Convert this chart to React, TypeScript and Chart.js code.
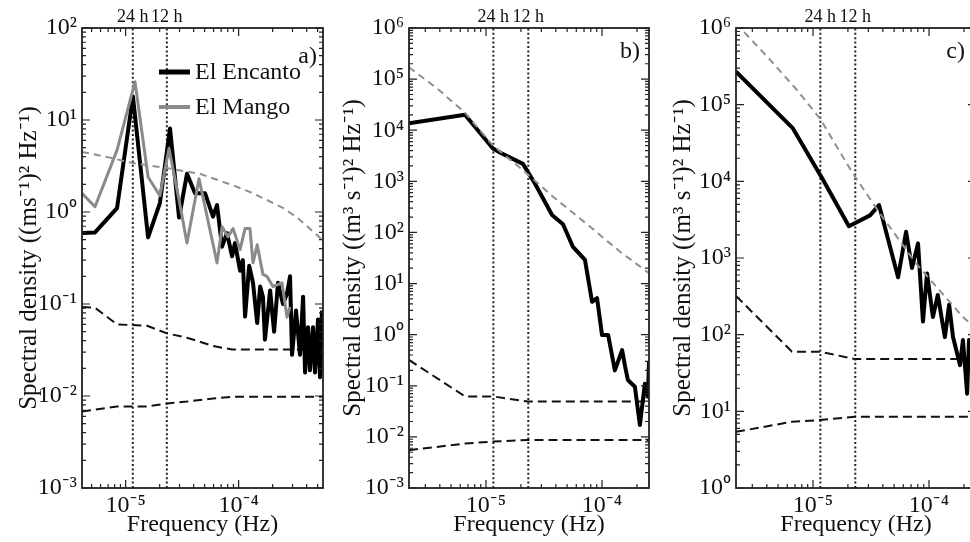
import React, { useEffect, useRef } from "react";
import { Chart, registerables } from "chart.js";

Chart.register(...registerables);

// ---------- shared ----------
const DAY_HZ = 1 / 86400;
const HALF_DAY_HZ = 1 / 43200;
const TOP_TICK_VALUES = [DAY_HZ, HALF_DAY_HZ];
const TOP_TICK_LABELS = ["24 h", "12 h"];
const X_TITLE = "Frequency (Hz)";
const Y_TITLE_A = "Spectral density ((ms⁻¹)² Hz⁻¹)";
const Y_TITLE_BC = "Spectral density ((m³ s⁻¹)² Hz⁻¹)";
const LEGEND_LABELS = ["El Encanto", "El Mango"];

// ---------- panel a ----------
const A_X_RANGE = [4.11e-6, 5.58e-4];
const A_Y_RANGE = [1e-3, 1e2];
const A_ENCANTO_HZ = [4.11e-6, 5.36e-6, 8.39e-6, 1.16e-5, 1.58e-5, 2.01e-5, 2.47e-5, 2.97e-5, 3.49e-5, 4.11e-5, 5.04e-5, 5.93e-5, 6.44e-5, 7.13e-5, 7.89e-5, 8.75e-5, 9.29e-5, 1.03e-4, 1.09e-4, 1.14e-4, 1.24e-4, 1.34e-4, 1.46e-4, 1.55e-4, 1.64e-4, 1.71e-4, 1.9e-4, 2.06e-4, 2.23e-4, 2.47e-4, 2.68e-4, 2.85e-4, 2.97e-4, 3.22e-4, 3.49e-4, 3.72e-4, 3.87e-4, 4.11e-4, 4.28e-4, 4.55e-4, 4.74e-4, 5.04e-4, 5.25e-4, 5.47e-4];
const A_ENCANTO_PSD = [0.59, 0.6, 1.1, 18, 0.53, 1.25, 8.1, 0.87, 2.6, 1.6, 1.6, 0.89, 1.19, 0.42, 0.59, 0.33, 0.46, 0.23, 0.3, 0.073, 0.26, 0.17, 0.062, 0.155, 0.12, 0.041, 0.14, 0.05, 0.17, 0.1, 0.13, 0.2, 0.028, 0.085, 0.028, 0.12, 0.018, 0.056, 0.019, 0.056, 0.018, 0.068, 0.016, 0.085];
const A_MANGO_HZ = [4.11e-6, 5.36e-6, 8.39e-6, 1.21e-5, 1.58e-5, 2.01e-5, 2.42e-5, 2.97e-5, 3.49e-5, 4.46e-5, 6.44e-5, 7.13e-5, 8.05e-5, 8.92e-5, 1.03e-4, 1.14e-4, 1.26e-4, 1.34e-4, 1.46e-4, 1.64e-4, 1.78e-4, 2.01e-4, 2.42e-4, 2.68e-4, 2.85e-4];
const A_MANGO_PSD = [1.6, 1.14, 4.7, 26, 2.4, 1.5, 4.9, 1.35, 0.46, 2.3, 0.28, 0.69, 0.54, 0.66, 0.39, 0.66, 0.66, 0.28, 0.44, 0.21, 0.2, 0.155, 0.17, 0.072, 0.093];
const A_FIT_HZ = [4.11e-6, 7.27e-6, 1.16e-5, 2.32e-5, 4.55e-5, 8.92e-5, 1.26e-4, 1.78e-4, 2.57e-4, 3.49e-4, 5.58e-4];
const A_FIT_PSD = [4.5, 3.9, 3.4, 3.0, 2.6, 1.95, 1.65, 1.35, 1.08, 0.82, 0.49];
const A_CI_HZ = [4.11e-6, 5.36e-6, 8.39e-6, 1.55e-5, 2.32e-5, 3.49e-5, 5.93e-5, 8.75e-5, 5.58e-4];
const A_CI_UPPER = [0.093, 0.091, 0.06, 0.058, 0.048, 0.043, 0.035, 0.032, 0.032];
const A_CI_LOWER = [0.0068, 0.0071, 0.0077, 0.0077, 0.0083, 0.0087, 0.0094, 0.0098, 0.0098];

// ---------- panel b ----------
const B_X_RANGE = [2.17e-6, 2.54e-4];
const B_Y_RANGE = [1e-3, 1e6];
const B_FLOW_HZ = [2.17e-6, 6.59e-6, 1.148e-5, 1.37e-5, 2.08e-5, 2.64e-5, 3.71e-5, 4.61e-5, 5.62e-5, 7.13e-5, 8.2e-5, 9.06e-5, 1.0e-4, 1.13e-4, 1.29e-4, 1.49e-4, 1.58e-4, 1.67e-4, 1.92e-4, 2.12e-4, 2.34e-4, 2.49e-4, 2.54e-4];
const B_FLOW_PSD = [1.36e4, 2.0e4, 4.4e3, 3.5e3, 2.2e3, 910, 220, 145, 52, 29, 4.4, 5.2, 0.98, 0.98, 0.2, 0.5, 0.24, 0.13, 0.096, 0.017, 0.11, 0.061, 0.3];
const B_FIT_HZ = [2.17e-6, 3.78e-6, 6.59e-6, 1.148e-5, 2.08e-5, 3.78e-5, 7.43e-5, 1.43e-4, 2.54e-4];
const B_FIT_PSD = [1.7e5, 6.6e4, 2.2e4, 5.0e3, 1.66e3, 500, 145, 42, 16];
const B_CI_HZ = [2.17e-6, 6.59e-6, 1.148e-5, 2.3e-5, 2.54e-4];
const B_CI_UPPER = [0.32, 0.062, 0.062, 0.049, 0.049];
const B_CI_LOWER = [0.0055, 0.0074, 0.0081, 0.0087, 0.0087];

// ---------- panel c ----------
const C_X_RANGE = [2.17e-6, 2.54e-4];
const C_Y_RANGE = [1e0, 1e6];
const C_FLOW_HZ = [2.17e-6, 6.72e-6, 1.22e-5, 2.04e-5, 3.1e-5, 3.71e-5, 5.41e-5, 6.34e-5, 7.13e-5, 8.04e-5, 8.87e-5, 9.61e-5, 1.08e-4, 1.19e-4, 1.37e-4, 1.49e-4, 1.61e-4, 1.85e-4, 1.96e-4, 2.13e-4, 2.21e-4, 2.34e-4, 2.54e-4];
const C_FLOW_PSD = [2.7e5, 4.9e4, 1.05e4, 2.6e3, 3.6e3, 4.9e3, 560, 2.2e3, 740, 1.55e3, 148, 630, 170, 330, 93, 245, 93, 40, 85, 17, 85, 40, 100];
const C_FIT_HZ = [2.17e-6, 4.52e-6, 7.28e-6, 1.148e-5, 2.21e-5, 3.78e-5, 7.88e-5, 1.96e-4, 2.54e-4];
const C_FIT_PSD = [1.15e6, 3.5e5, 1.55e5, 6.6e4, 1.26e4, 3.8e3, 820, 170, 120];
const C_CI_HZ = [2.17e-6, 6.59e-6, 1.148e-5, 2.3e-5, 2.54e-4];
const C_CI_UPPER = [320, 60, 60, 48, 48];
const C_CI_LOWER = [5.4, 7.3, 7.7, 8.5, 8.5];

// ---------- helpers ----------
const FONT_FAMILY = "'Liberation Serif', 'Lato', 'Noto Sans', serif";
const TEXT_COLOR = "#111";
const SUP: Record<string, string> = {
  "-": "⁻", "0": "⁰", "1": "¹", "2": "²", "3": "³", "4": "⁴",
  "5": "⁵", "6": "⁶", "7": "⁷", "8": "⁸", "9": "⁹",
};
const powLabel = (v: number) => {
  const e = Math.round(Math.log10(v));
  return "10" + String(e).split("").map((c) => SUP[c]).join("");
};
const pts = (xs: number[], ys: number[]) => xs.map((x, i) => ({ x, y: ys[i] }));
const decadeTicks = (scale: any) => {
  const lo = Math.ceil(Math.log10(scale.min) - 1e-9);
  const hi = Math.floor(Math.log10(scale.max) + 1e-9);
  const t: any[] = [];
  for (let e = lo; e <= hi; e++) t.push({ value: Math.pow(10, e) });
  scale.ticks = t;
};
const logTickList = (scale: any) => {
  const out: { p: number; major: boolean }[] = [];
  const lo = Math.floor(Math.log10(scale.min));
  const hi = Math.ceil(Math.log10(scale.max));
  for (let e = lo; e <= hi; e++) {
    for (let m = 1; m <= 9; m++) {
      const v = m * Math.pow(10, e);
      if (v >= scale.min * (1 - 1e-9) && v <= scale.max * (1 + 1e-9)) {
        out.push({ p: scale.getPixelForValue(v), major: m === 1 });
      }
    }
  }
  return out;
};

// inward ticks on all four sides + frame
const framePlugin = {
  id: "frameTicks",
  afterDatasetsDraw(chart: any) {
    const { ctx, chartArea: a, scales } = chart;
    ctx.save();
    ctx.setLineDash([]);
    ctx.strokeStyle = "#222";
    ctx.lineWidth = 1.2;
    ctx.beginPath();
    for (const t of logTickList(scales.x)) {
      const L = t.major ? 8 : 4;
      ctx.moveTo(t.p, a.bottom);
      ctx.lineTo(t.p, a.bottom - L);
      ctx.moveTo(t.p, a.top);
      ctx.lineTo(t.p, a.top + L);
    }
    for (const t of logTickList(scales.y)) {
      const L = t.major ? 8 : 4;
      ctx.moveTo(a.left, t.p);
      ctx.lineTo(a.left + L, t.p);
      ctx.moveTo(a.right, t.p);
      ctx.lineTo(a.right - L, t.p);
    }
    ctx.stroke();
    ctx.lineWidth = 1.8;
    ctx.strokeRect(a.left, a.top, a.right - a.left, a.bottom - a.top);
    ctx.restore();
  },
};

const panelLabelPlugin = {
  id: "panelLabel",
  afterDraw(chart: any, _args: any, opts: any) {
    if (!opts || !opts.text) return;
    const { ctx, chartArea: a } = chart;
    ctx.save();
    ctx.font = `24px ${FONT_FAMILY}`;
    ctx.fillStyle = TEXT_COLOR;
    ctx.textAlign = "right";
    ctx.textBaseline = "middle";
    ctx.fillText(opts.text, a.right - opts.dx, a.top + opts.dy);
    ctx.restore();
  },
};

const insideLegendPlugin = {
  id: "insideLegend",
  afterDraw(chart: any, _args: any, opts: any) {
    if (!opts || !opts.labels) return;
    const { ctx, chartArea: a } = chart;
    ctx.save();
    opts.labels.forEach((label: string, i: number) => {
      const ds = chart.data.datasets.find((d: any) => d.label === label);
      if (!ds) return;
      const y = a.top + opts.top + i * opts.rowGap;
      ctx.setLineDash([]);
      ctx.strokeStyle = ds.borderColor;
      ctx.lineWidth = ds.borderWidth + 1;
      ctx.lineCap = "butt";
      ctx.beginPath();
      ctx.moveTo(a.left + opts.lineStart, y);
      ctx.lineTo(a.left + opts.lineEnd, y);
      ctx.stroke();
      ctx.font = `24px ${FONT_FAMILY}`;
      ctx.fillStyle = TEXT_COLOR;
      ctx.textAlign = "left";
      ctx.textBaseline = "middle";
      ctx.fillText(label, a.left + opts.textStart, y + 1);
    });
    ctx.restore();
  },
};

const markerLine = (f: number, yr: number[], label: string) => ({
  label,
  data: [{ x: f, y: yr[0] }, { x: f, y: yr[1] }],
  borderColor: "#222",
  borderWidth: 2,
  borderDash: [2, 2.4],
  pointRadius: 0,
  order: 9,
});
const dashed = (label: string, data: any[], color: string, dash: number[], order: number) => ({
  label,
  data,
  borderColor: color,
  borderWidth: 2,
  borderDash: dash,
  pointRadius: 0,
  order,
});
const solid = (label: string, data: any[], color: string, width: number, order: number) => ({
  label,
  data,
  borderColor: color,
  borderWidth: width,
  borderJoinStyle: "round",
  pointRadius: 0,
  order,
});

type PanelSpec = {
  xRange: number[];
  yRange: number[];
  yTitle: string;
  yAxisWidth: number;
  titlePad: number;
  rightPad: number;
  label: { text: string; dx: number; dy: number };
  legend?: any;
  datasets: any[];
};

function makeConfig(p: PanelSpec): any {
  return {
    type: "line",
    data: { datasets: p.datasets },
    plugins: [framePlugin, panelLabelPlugin, insideLegendPlugin],
    options: {
      responsive: false,
      animation: false,
      devicePixelRatio: 1,
      layout: { padding: { left: 0, top: 0, bottom: 0, right: p.rightPad } },
      elements: { line: { tension: 0, fill: false } },
      datasets: { line: { clip: 0 } },
      plugins: {
        legend: { display: false },
        tooltip: { enabled: false },
        panelLabel: p.label,
        insideLegend: p.legend || {},
      },
      scales: {
        x: {
          type: "logarithmic",
          position: "bottom",
          min: p.xRange[0],
          max: p.xRange[1],
          grid: { display: false, drawTicks: false },
          border: { display: false },
          afterBuildTicks: decadeTicks,
          afterFit: (s: any) => { s.height = 54; },
          ticks: {
            callback: (v: any) => powLabel(Number(v)),
            autoSkip: false,
            maxRotation: 0,
            padding: 3,
            color: TEXT_COLOR,
            font: { family: FONT_FAMILY, size: 24 },
          },
          title: {
            display: true,
            text: X_TITLE,
            color: TEXT_COLOR,
            font: { family: FONT_FAMILY, size: 24 },
            padding: { top: 0, bottom: 3 },
          },
        },
        xTop: {
          type: "logarithmic",
          position: "top",
          min: p.xRange[0],
          max: p.xRange[1],
          grid: { display: false, drawTicks: false },
          border: { display: false },
          afterBuildTicks: (s: any) => { s.ticks = TOP_TICK_VALUES.map((v) => ({ value: v })); },
          afterFit: (s: any) => { s.height = 28; },
          ticks: {
            callback: (_v: any, i: number) => TOP_TICK_LABELS[i],
            autoSkip: false,
            maxRotation: 0,
            padding: 0,
            color: TEXT_COLOR,
            font: { family: FONT_FAMILY, size: 18 },
          },
        },
        y: {
          type: "logarithmic",
          position: "left",
          min: p.yRange[0],
          max: p.yRange[1],
          grid: { display: false, drawTicks: false },
          border: { display: false },
          afterBuildTicks: decadeTicks,
          afterFit: (s: any) => { s.width = p.yAxisWidth; },
          ticks: {
            callback: (v: any) => powLabel(Number(v)),
            autoSkip: false,
            padding: 5,
            color: TEXT_COLOR,
            font: { family: FONT_FAMILY, size: 24 },
          },
          title: {
            display: true,
            text: p.yTitle,
            color: TEXT_COLOR,
            font: { family: FONT_FAMILY, size: 25 },
            padding: { top: p.titlePad, bottom: 0 },
          },
        },
      },
    },
  };
}

const GRAY_FIT = "#8f8f8f";
const CI_DASH = [9, 5];
const FIT_DASH = [7, 5];

const PANEL_A: PanelSpec = {
  xRange: A_X_RANGE,
  yRange: A_Y_RANGE,
  yTitle: Y_TITLE_A,
  yAxisWidth: 82,
  titlePad: 14,
  rightPad: 7,
  label: { text: "a)", dx: 6, dy: 29 },
  legend: { labels: LEGEND_LABELS, top: 44, rowGap: 35, lineStart: 77, lineEnd: 108, textStart: 113 },
  datasets: [
    markerLine(DAY_HZ, A_Y_RANGE, "24 h"),
    markerLine(HALF_DAY_HZ, A_Y_RANGE, "12 h"),
    dashed("Upper bound", pts(A_CI_HZ, A_CI_UPPER), "#111", CI_DASH, 8),
    dashed("Lower bound", pts(A_CI_HZ, A_CI_LOWER), "#111", CI_DASH, 8),
    solid("El Encanto", pts(A_ENCANTO_HZ, A_ENCANTO_PSD), "#000", 4, 4),
    solid("El Mango", pts(A_MANGO_HZ, A_MANGO_PSD), "#8a8a8a", 3, 3),
    dashed("Red-noise fit", pts(A_FIT_HZ, A_FIT_PSD), GRAY_FIT, FIT_DASH, 2),
  ],
};

const PANEL_B: PanelSpec = {
  xRange: B_X_RANGE,
  yRange: B_Y_RANGE,
  yTitle: Y_TITLE_BC,
  yAxisWidth: 79,
  titlePad: 8,
  rightPad: 6,
  label: { text: "b)", dx: 9, dy: 24 },
  datasets: [
    markerLine(DAY_HZ, B_Y_RANGE, "24 h"),
    markerLine(HALF_DAY_HZ, B_Y_RANGE, "12 h"),
    dashed("Upper bound", pts(B_CI_HZ, B_CI_UPPER), "#111", CI_DASH, 8),
    dashed("Lower bound", pts(B_CI_HZ, B_CI_LOWER), "#111", CI_DASH, 8),
    solid("Spectrum", pts(B_FLOW_HZ, B_FLOW_PSD), "#000", 4, 4),
    dashed("Red-noise fit", pts(B_FIT_HZ, B_FIT_PSD), GRAY_FIT, FIT_DASH, 2),
  ],
};

const PANEL_C: PanelSpec = {
  xRange: C_X_RANGE,
  yRange: C_Y_RANGE,
  yTitle: Y_TITLE_BC,
  yAxisWidth: 81,
  titlePad: 13,
  rightPad: 14,
  label: { text: "c)", dx: 11, dy: 24 },
  datasets: [
    markerLine(DAY_HZ, C_Y_RANGE, "24 h"),
    markerLine(HALF_DAY_HZ, C_Y_RANGE, "12 h"),
    dashed("Upper bound", pts(C_CI_HZ, C_CI_UPPER), "#111", CI_DASH, 8),
    dashed("Lower bound", pts(C_CI_HZ, C_CI_LOWER), "#111", CI_DASH, 8),
    solid("Spectrum", pts(C_FLOW_HZ, C_FLOW_PSD), "#000", 4, 4),
    dashed("Red-noise fit", pts(C_FIT_HZ, C_FIT_PSD), GRAY_FIT, FIT_DASH, 2),
  ],
};

function Panel({ spec, left, width }: { spec: PanelSpec; left: number; width: number }) {
  const ref = useRef<HTMLCanvasElement | null>(null);
  useEffect(() => {
    if (!ref.current) return;
    const chart = new Chart(ref.current, makeConfig(spec));
    return () => chart.destroy();
  }, [spec]);
  return (
    <canvas
      ref={ref}
      width={width}
      height={542}
      style={{ position: "absolute", left, top: 0, width, height: 542 }}
    />
  );
}

export default function App() {
  return (
    <div
      style={{
        position: "fixed",
        left: 0,
        top: 0,
        width: 970,
        height: 542,
        overflow: "hidden",
        background: "#fff",
      }}
    >
      <Panel spec={PANEL_A} left={0} width={330} />
      <Panel spec={PANEL_B} left={330} width={325} />
      <Panel spec={PANEL_C} left={655} width={335} />
    </div>
  );
}
